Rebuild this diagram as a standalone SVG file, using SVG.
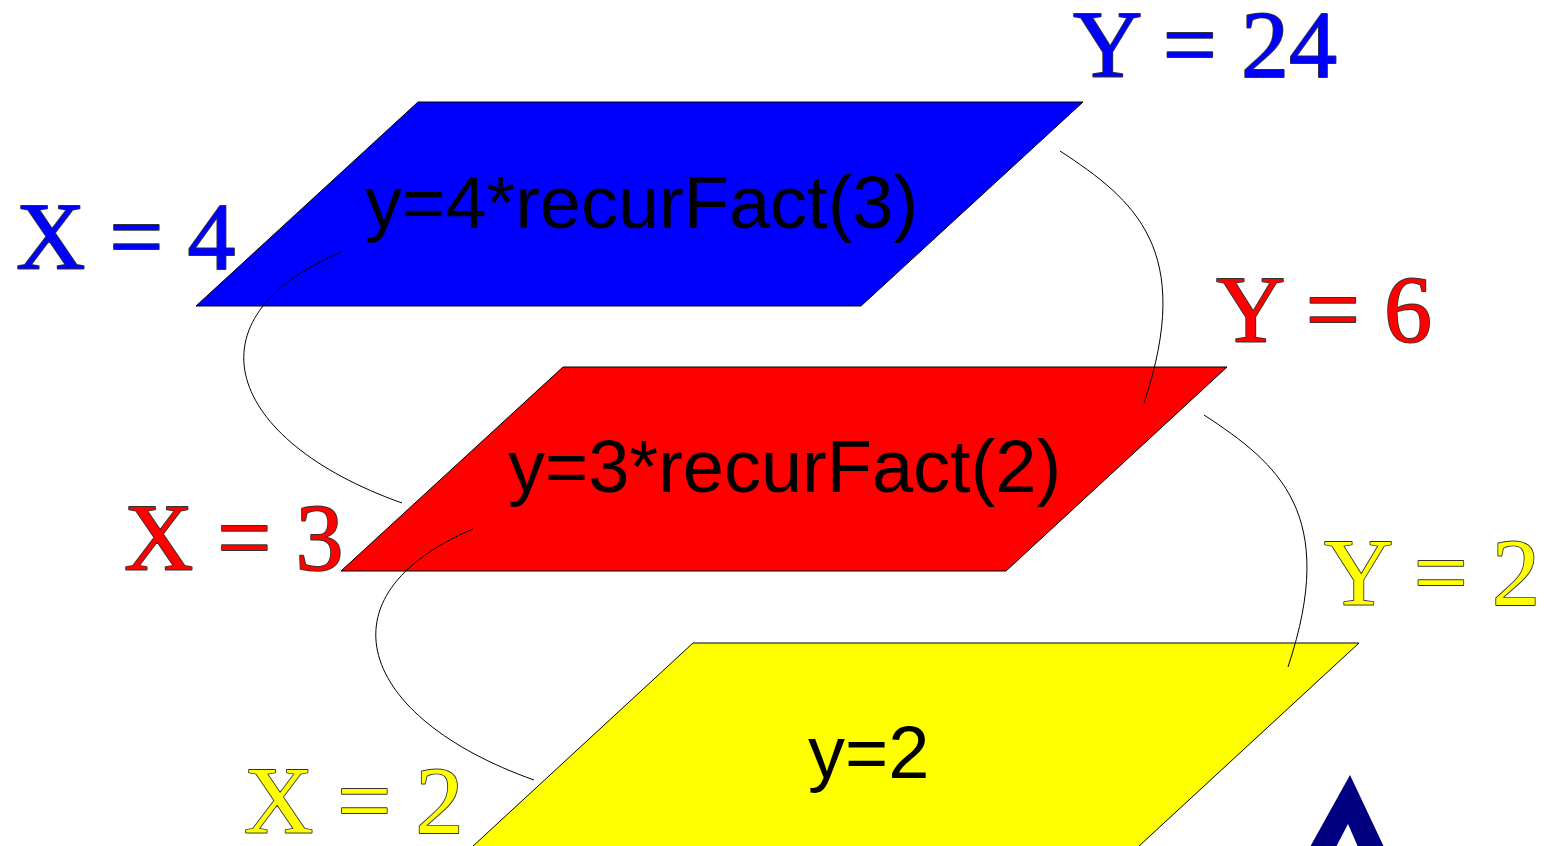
<svg xmlns="http://www.w3.org/2000/svg" width="1556" height="846" viewBox="0 0 1556 846">
<style>
.plane{stroke:#000;stroke-width:1}
.code{font-family:"Liberation Sans",Arial,sans-serif;font-size:74px;fill:#000}
.lbl{font-family:"Liberation Serif","Times New Roman",serif;font-size:96px;stroke:#333;stroke-width:1.8;paint-order:stroke;stroke-linejoin:round}
.link{fill:none;stroke:#000;stroke-width:1}
</style>
<defs>
<path id="rightCurve" d="M1060,151 C1135,200 1195,250 1144,403"/>
<path id="leftCurve" d="M341,252 C185,318 225,440 402,503"/>
</defs>
<rect width="1556" height="846" fill="#fff"/>
<g id="node-fact4">
<polygon class="plane" points="418,102 1083,102 861,306 196,306" fill="#0000ff"/>
<text class="code" x="365" y="228">y=4*recurFact(3)</text>
</g>
<g id="node-fact3">
<polygon class="plane" points="563,367 1227,367 1006,571 341,571" fill="#ff0000"/>
<text class="code" x="508" y="492">y=3*recurFact(2)</text>
</g>
<g id="node-fact2">
<polygon class="plane" points="693,643 1359,643 1138,847 472,847" fill="#ffff00"/>
<text class="code" x="808" y="778">y=2</text>
</g>
<g id="labels">
<text class="lbl" x="16" y="269" fill="#0000ff">X = 4</text>
<text class="lbl" x="1073" y="77" fill="#0000ff">Y = 24</text>
<text class="lbl" x="124" y="570" fill="#ff0000">X = 3</text>
<text class="lbl" x="1216" y="342" fill="#ff0000">Y = 6</text>
<text class="lbl" x="244" y="833" fill="#ffff00">X = 2</text>
<text class="lbl" x="1324" y="605" fill="#ffff00">Y = 2</text>
</g>
<g id="connectors">
<use href="#rightCurve" class="link"/>
<use href="#rightCurve" class="link" transform="translate(144,264)"/>
<use href="#leftCurve" class="link"/>
<use href="#leftCurve" class="link" transform="translate(132,277)"/>
</g>
<g id="logo">
<polygon points="1350,775 1384,847 1358,847 1348,824 1336,847 1310,847" fill="#000080"/>
</g>
</svg>
